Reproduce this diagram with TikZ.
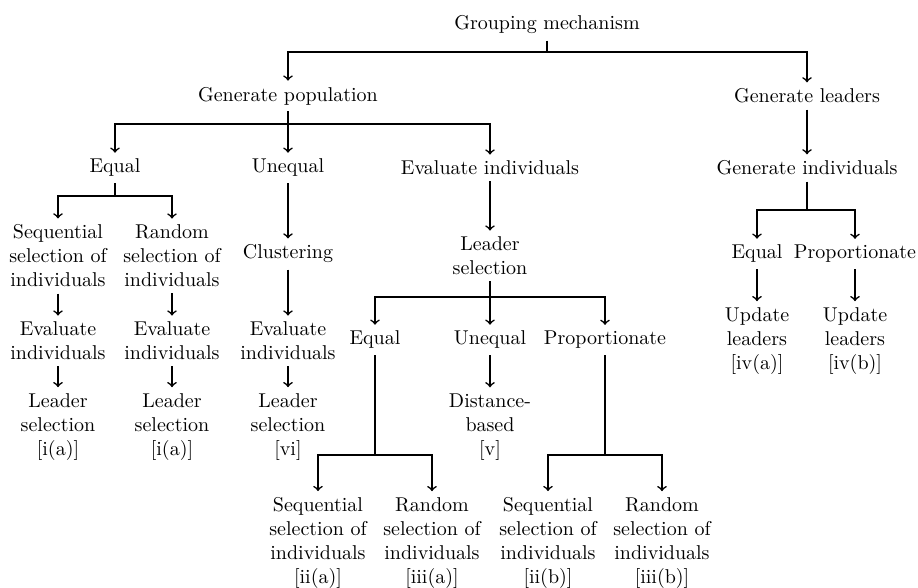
\documentclass[tikz,border=0pt]{standalone}
\usepackage{tikz}

\begin{document}
\begin{tikzpicture}[
        x=0.5pt, y=-0.5pt,
        lbl/.style={align=center, inner sep=3pt},
        arrow/.style={->, >=to, line width=0.8pt},
        stem/.style={line width=0.8pt}
    ]
        \useasboundingbox (0,0) rectangle (918,588);

        % top levels
        \node[lbl] (group) at (547,25) {Grouping mechanism};
        \node[lbl] (genpop) at (288,96) {Generate population};
        \node[lbl] (genlead) at (807,96) {Generate leaders};
        \node[lbl] (popeq) at (115,168) {Equal};
        \node[lbl] (popuneq) at (288,168) {Unequal};
        \node[lbl] (evind) at (490,168) {Evaluate individuals};
        \node[lbl] (genind) at (807,168) {Generate individuals};

        % equal branch
        \node[lbl] (seqa) at (58,256) {Sequential\\selection of\\individuals};
        \node[lbl] (rnda) at (172,256) {Random\\selection of\\individuals};
        \node[lbl] (evseq) at (58,341) {Evaluate\\individuals};
        \node[lbl] (evrnd) at (172,341) {Evaluate\\individuals};
        \node[lbl] (lsseq) at (58,427) {Leader\\selection\\{[i(a)]}};
        \node[lbl] (lsrnd) at (172,427) {Leader\\selection\\{[i(a)]}};

        % unequal branch
        \node[lbl] (clust) at (288,254) {Clustering};
        \node[lbl] (evclust) at (288,341) {Evaluate\\individuals};
        \node[lbl] (lsclust) at (288,427) {Leader\\selection\\{[vi]}};

        % evaluate individuals branch
        \node[lbl] (lsel) at (490,256) {Leader\\selection};
        \node[lbl] (leq) at (375,340) {Equal};
        \node[lbl] (luneq) at (490,340) {Unequal};
        \node[lbl] (lprop) at (605,340) {Proportionate};
        \node[lbl] (dist) at (490,427) {Distance-\\based\\{[v]}};
        \node[lbl] (seqiia) at (318,543) {Sequential\\selection of\\individuals\\{[ii(a)]}};
        \node[lbl] (rndiiia) at (432,543) {Random\\selection of\\individuals\\{[iii(a)]}};
        \node[lbl] (seqiib) at (548,543) {Sequential\\selection of\\individuals\\{[ii(b)]}};
        \node[lbl] (rndiiib) at (662,543) {Random\\selection of\\individuals\\{[iii(b)]}};

        % leaders branch
        \node[lbl] (geq) at (757,254) {Equal};
        \node[lbl] (gprop) at (855,254) {Proportionate};
        \node[lbl] (updeq) at (757,341) {Update\\leaders\\{[iv(a)]}};
        \node[lbl] (updprop) at (855,341) {Update\\leaders\\{[iv(b)]}};

        % junctions
        \coordinate (jgroup) at (547,52);
        \coordinate (jpop) at (288,124);
        \coordinate (jeq) at (115,196);
        \coordinate (jsel) at (490,297);
        \coordinate (jleq) at (375,455);
        \coordinate (jlprop) at (605,455);
        \coordinate (jind) at (807,210);

        \draw[stem] (group) -- (jgroup);
        \draw[arrow] (jgroup) -| (genpop);
        \draw[arrow] (jgroup) -| (genlead);

        \draw[stem] (genpop) -- (jpop);
        \draw[arrow] (jpop) -| (popeq);
        \draw[arrow] (jpop) -- (popuneq);
        \draw[arrow] (jpop) -| (evind);

        \draw[stem] (popeq) -- (jeq);
        \draw[arrow] (jeq) -| (seqa);
        \draw[arrow] (jeq) -| (rnda);
        \draw[arrow] (seqa) -- (evseq);
        \draw[arrow] (rnda) -- (evrnd);
        \draw[arrow] (evseq) -- (lsseq);
        \draw[arrow] (evrnd) -- (lsrnd);

        \draw[arrow] (popuneq) -- (clust);
        \draw[arrow] (clust) -- (evclust);
        \draw[arrow] (evclust) -- (lsclust);

        \draw[arrow] (evind) -- (lsel);
        \draw[stem] (lsel) -- (jsel);
        \draw[arrow] (jsel) -| (leq);
        \draw[arrow] (jsel) -- (luneq);
        \draw[arrow] (jsel) -| (lprop);
        \draw[arrow] (luneq) -- (dist);
        \draw[stem] (leq) -- (jleq);
        \draw[arrow] (jleq) -| (seqiia);
        \draw[arrow] (jleq) -| (rndiiia);
        \draw[stem] (lprop) -- (jlprop);
        \draw[arrow] (jlprop) -| (seqiib);
        \draw[arrow] (jlprop) -| (rndiiib);

        \draw[arrow] (genlead) -- (genind);
        \draw[stem] (genind) -- (jind);
        \draw[arrow] (jind) -| (geq);
        \draw[arrow] (jind) -| (gprop);
        \draw[arrow] (geq) -- (updeq);
        \draw[arrow] (gprop) -- (updprop);
    \end{tikzpicture}
\end{document}
